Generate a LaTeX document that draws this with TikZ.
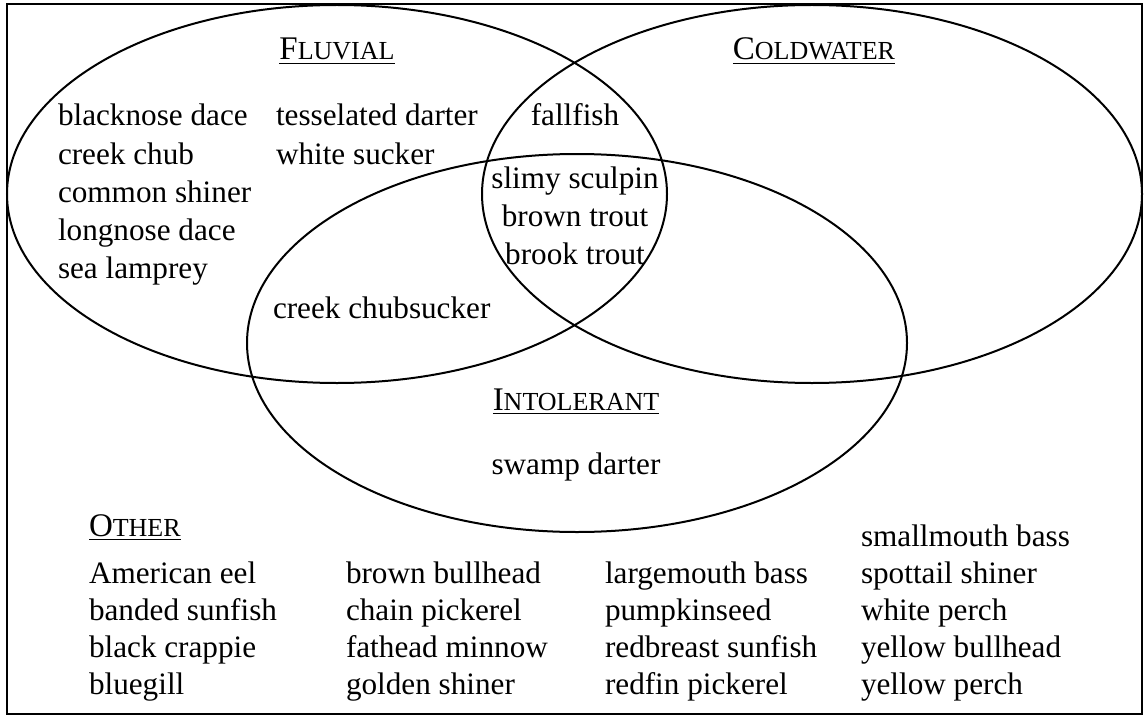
\documentclass[tikz,border=0pt]{standalone}
\usepackage{fontspec}
\setmainfont{Liberation Serif}
\usetikzlibrary{positioning}
\newcommand{\grouptitle}[2]{\underline{#1{\fontsize{13}{15}\selectfont #2}}}

\begin{document}
\begin{tikzpicture}[
    x=0.5pt, y=-0.5pt,
    every node/.style={inner sep=0pt, outer sep=0pt},
    fish/.style={anchor=base west, font=\fontsize{15.6}{19}\selectfont},
    fishc/.style={anchor=base, font=\fontsize{15.6}{19}\selectfont},
    title/.style={anchor=base, font=\fontsize{16.5}{19}\selectfont},
    setline/.style={draw, line width=1pt}
]
\useasboundingbox (0,0) rectangle (1145,717);

% frame
\draw[line width=1pt] (7,4) rectangle (1142,714);

% sets
\draw[setline] (337,194) ellipse [x radius=165pt, y radius=94.5pt];
\draw[setline] (812,194) ellipse [x radius=165pt, y radius=94.5pt];
\draw[setline] (577,343) ellipse [x radius=165pt, y radius=94.5pt];

% titles
\node[title] (fluvial) at (337,60) {\grouptitle{F}{LUVIAL}};
\node[title] (coldwater) at (814,60) {\grouptitle{C}{OLDWATER}};
\node[title] (intolerant) at (576,410) {\grouptitle{I}{NTOLERANT}};
\node[title, anchor=base west] (other) at (89,536) {\grouptitle{O}{THER}};

% fluvial only
\foreach \name [count=\i] in {blacknose dace, creek chub, common shiner, longnose dace, sea lamprey}
  \node[fish] (fl\i) at (58,{126+38*(\i-1)}) {\name};
\node[fish] (tess) at (276,126) {tesselated darter};
\node[fish] (whsu) at (276,164) {white sucker};

% overlaps
\node[fishc] (fall) at (575,126) {fallfish};
\foreach \name [count=\i] in {slimy sculpin, brown trout, brook trout}
  \node[fishc] (all\i) at (575,{188+38*(\i-1)}) {\name};
\node[fish] (chubs) at (273,318) {creek chubsucker};
\node[fishc] (swamp) at (576,474) {swamp darter};

% other
\foreach \name [count=\i] in {American eel, banded sunfish, black crappie, bluegill}
  \node[fish] (oa\i) at (89,{583+37*(\i-1)}) {\name};
\foreach \name [count=\i] in {brown bullhead, chain pickerel, fathead minnow, golden shiner}
  \node[fish] (ob\i) at (346,{583+37*(\i-1)}) {\name};
\foreach \name [count=\i] in {largemouth bass, pumpkinseed, redbreast sunfish, redfin pickerel}
  \node[fish] (oc\i) at (605,{583+37*(\i-1)}) {\name};
\foreach \name [count=\i] in {smallmouth bass, spottail shiner, white perch, yellow bullhead, yellow perch}
  \node[fish] (od\i) at (861,{546+37*(\i-1)}) {\name};

\end{tikzpicture}
\end{document}
